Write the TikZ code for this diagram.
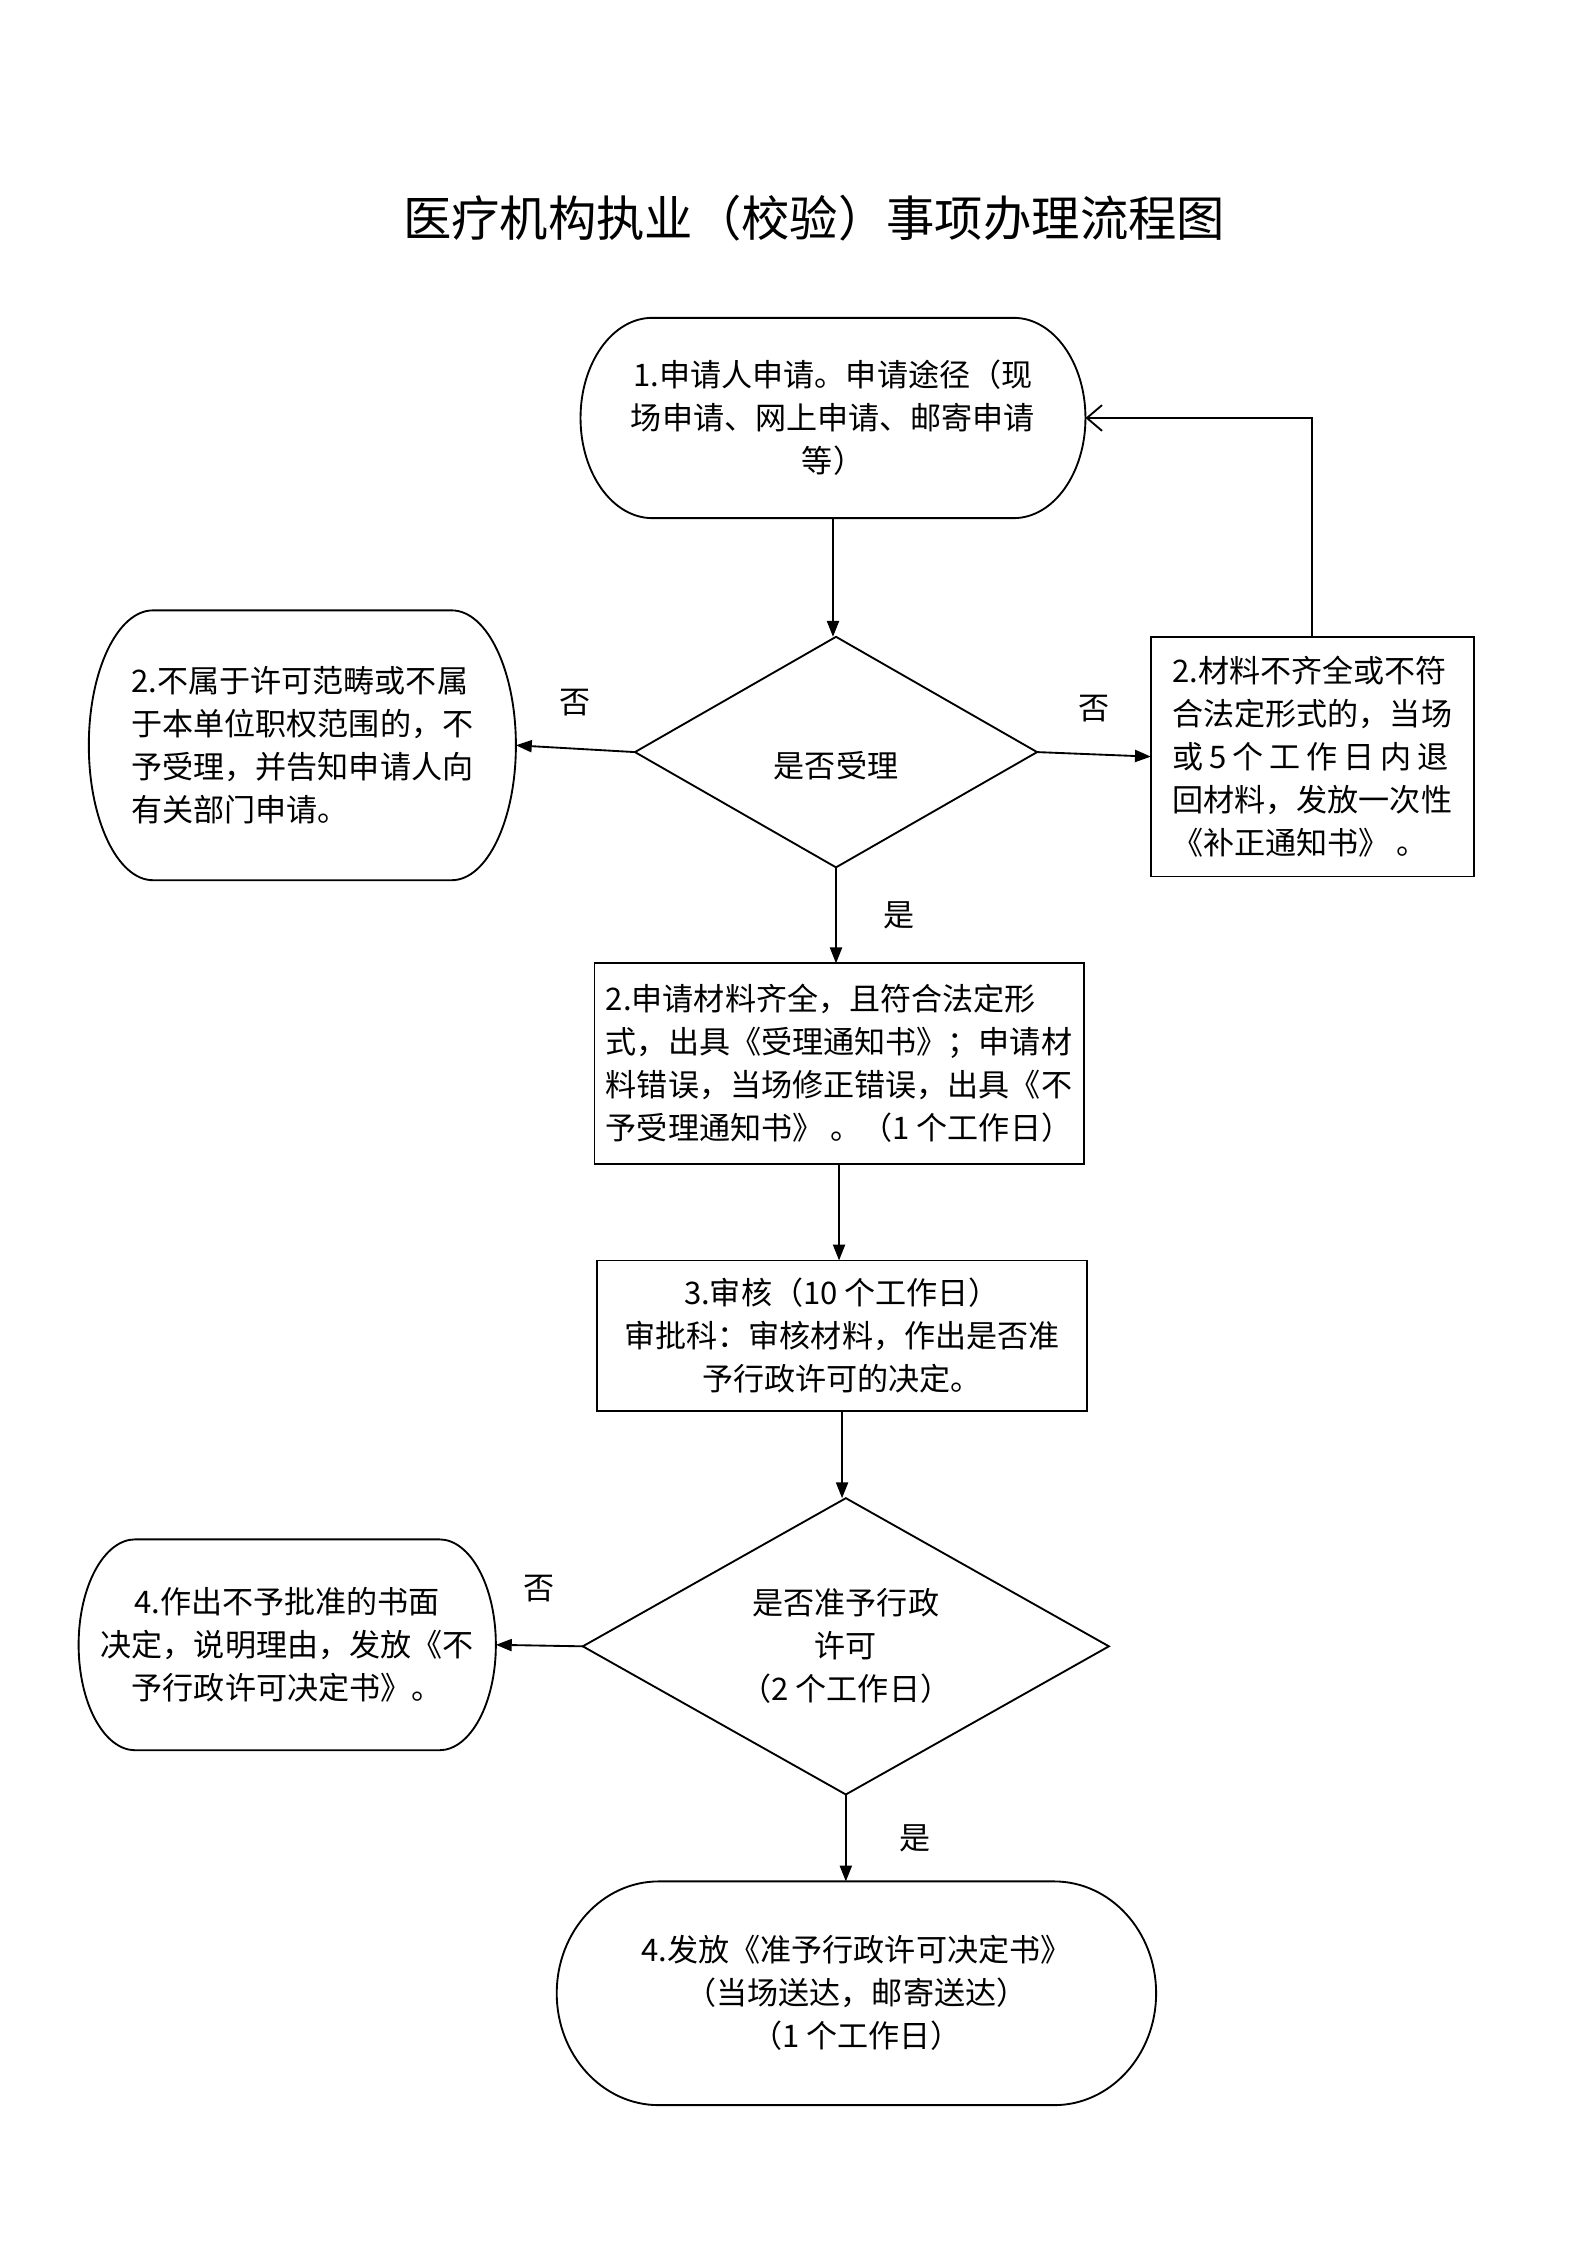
\documentclass[tikz,border=0pt]{standalone}
\usepackage{fontspec}
\newfontfamily\cjk{Noto Sans CJK SC}
\usetikzlibrary{shapes.geometric,arrows.meta}

\tikzset{
  txt/.style={font=\cjk\fontsize{11.7}{16.2}\selectfont, inner sep=0pt, outer sep=0pt},
  capsule/.style={txt, align=center},
  box/.style={txt, draw, line width=0.7pt, align=center},
  decide/.style={txt, draw, line width=0.7pt, shape=diamond, align=center},
  flow/.style={line width=0.7pt, -{Triangle[length=0.21cm,width=0.16cm]}},
  back/.style={line width=0.7pt, -{Straight Barb[length=0.2cm,width=0.34cm]}},
  tag/.style={font=\cjk\fontsize{11.7}{14}\selectfont}
}

\begin{document}
\begin{tikzpicture}
		\useasboundingbox (0,0) rectangle (21,29.7);
		\fill[white] (0,0) rectangle (21,29.7);

		\coordinate (T) at (10.77, 26.82);
		\coordinate (P1) at (11.02, 24.17);
		\coordinate (Q1) at (11.06, 19.75);
		\coordinate (L1) at (4.00, 19.84);
		\coordinate (R1) at (17.36, 19.69);
		\coordinate (P3) at (11.10, 15.63);
		\coordinate (P4) at (11.14, 12.03);
		\coordinate (Q2) at (11.19, 7.92);
		\coordinate (L2) at (3.80, 7.94);
		\coordinate (P5) at (11.33, 3.33);

		\node[font=\cjk\fontsize{18.2}{20}\selectfont] (title) at (T) {医疗机构执业（校验）事项办理流程图};

		\node[capsule, minimum width=6.68cm, minimum height=2.65cm] (apply) at (P1) {1.申请人申请。申请途径（现\\场申请、网上申请、邮寄申请\\等）};
		\node[decide, minimum width=5.32cm, minimum height=3.05cm, aspect=1.74] (accept) at (Q1) {\raisebox{-0.34cm}[0pt][0pt]{是否受理}};
		\node[capsule, align=left, minimum width=5.65cm, minimum height=3.57cm] (reject) at (L1) {2.不属于许可范畴或不属\\于本单位职权范围的，不\\予受理，并告知申请人向\\有关部门申请。};
		\node[box, align=left, minimum width=4.27cm, minimum height=3.17cm] (supply) at (R1) {2.材料不齐全或不符\\合法定形式的，当场\\\makebox[3.66cm][s]{或\hfill 5\hfill 个\hfill 工\hfill 作\hfill 日\hfill 内\hfill 退}\\回材料，发放一次性\\《补正通知书》 。};
		\node[box, align=left, minimum width=6.47cm, minimum height=2.65cm] (receipt) at (P3) {2.申请材料齐全，且符合法定形\\式，出具《受理通知书》；申请材\\料错误，当场修正错误，出具《不\\予受理通知书》 。（1 个工作日）};
		\node[box, minimum width=6.49cm, minimum height=1.99cm] (review) at (P4) {3.审核（10 个工作日）\\审批科：审核材料，作出是否准\\予行政许可的决定。};
		\node[decide, minimum width=6.96cm, minimum height=3.92cm, aspect=1.77] (permit) at (Q2) {是否准予行政\\许可\\（2 个工作日）};
		\node[capsule, minimum width=5.52cm, minimum height=2.79cm] (deny) at (L2) {4.作出不予批准的书面\\决定，说明理由，发放《不\\予行政许可决定书》。};
		\node[capsule, minimum width=7.93cm, minimum height=2.96cm] (issue) at (P5) {4.发放《准予行政许可决定书》\\（当场送达，邮寄送达）\\（1 个工作日）};

		% rounded ends
		\foreach \n/\rx/\ry in {apply/0.95/1.325, reject/0.85/1.785, deny/0.75/1.395, issue/1.35/1.48}
			\draw[line width=0.7pt] ([xshift=\rx cm]\n.north west) -- ([xshift=-\rx cm]\n.north east)
				arc[start angle=90, end angle=-90, x radius=\rx cm, y radius=\ry cm]
				-- ([xshift=\rx cm]\n.south west)
				arc[start angle=270, end angle=90, x radius=\rx cm, y radius=\ry cm] -- cycle;

		\draw[flow] (apply.south) -- (apply.south |- accept.north);
		\draw[flow] (accept.west) -- (reject.east) node[tag, midway, above=0.3cm] {否};
		\draw[flow] (accept.east) -- (supply.west) node[tag, midway, above=0.3cm] {否};
		\draw[back] (supply.north) |- (apply.east);
		\draw[flow] (accept.south) -- (accept.south |- receipt.north) node[tag, midway, right=0.5cm] {是};
		\draw[flow] (receipt.south) -- (receipt.south |- review.north);
		\draw[flow] (review.south) -- (review.south |- permit.north);
		\draw[flow] (permit.west) -- (deny.east) node[tag, midway, above=0.45cm] {否};
		\draw[flow] (permit.south) -- (permit.south |- issue.north) node[tag, midway, right=0.58cm] {是};
\end{tikzpicture}
\end{document}
